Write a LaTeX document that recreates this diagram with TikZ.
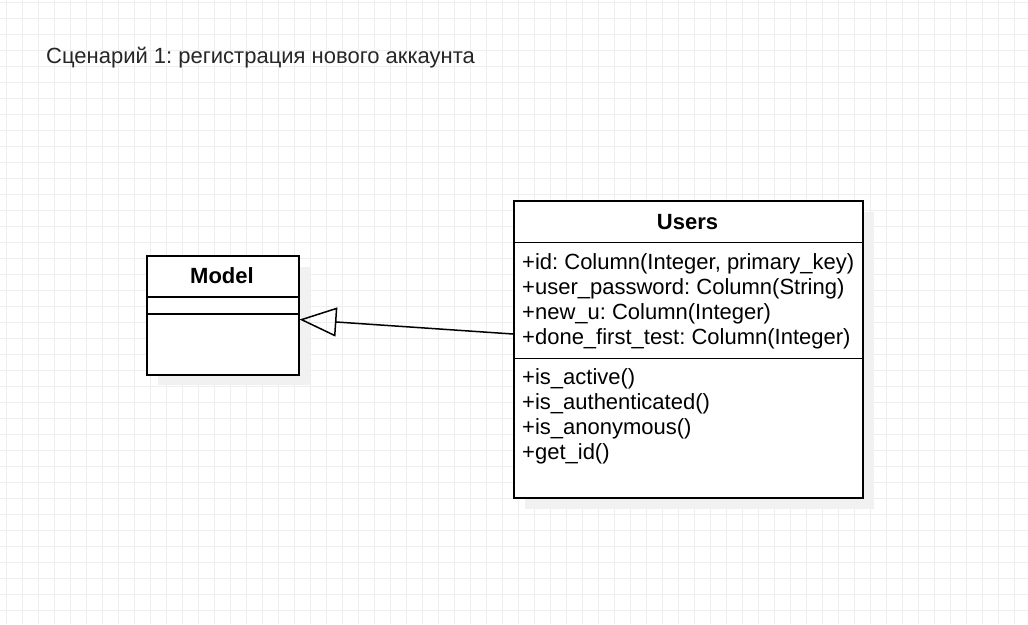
\documentclass[tikz,border=0pt]{standalone}
\usepackage{fontspec}
\setmainfont{Liberation Sans}
\usetikzlibrary{arrows.meta}
\definecolor{gridc}{HTML}{EEEEEE}
\definecolor{shadowc}{HTML}{F1F1F1}
\frenchspacing
\begin{document}
\begin{tikzpicture}[x=1pt,y=-1pt,
  txt/.style={anchor=base west, inner sep=0pt, font=\fontsize{22}{25}\selectfont},
  ttl/.style={anchor=base, inner sep=0pt, font=\fontsize{22}{25}\selectfont\bfseries},
  classbox/.style={draw=black, line width=1.5pt, fill=white, anchor=north west, inner sep=0pt},
  shadowbox/.style={fill=shadowc, draw=none},
  divider/.style={draw=black, line width=1.5pt},
  gen/.style={draw=black, line width=1.5pt, -{Triangle[open, length=37pt, width=29pt, line width=1.5pt]}}
]
\useasboundingbox (0,0) rectangle (1028,624);
\fill[white] (0,0) rectangle (1028,624);
% grid
\foreach \k in {0,...,64} {\draw[gridc, line width=1pt] ({6.7+16*\k},0) -- ({6.7+16*\k},624);}
\foreach \k in {0,...,38} {\draw[gridc, line width=1pt] (0,{2.5+16*\k}) -- (1028,{2.5+16*\k});}

% title
\node[txt, text=black!85] (title) at (46,63) {Сценарий 1: регистрация нового аккаунта};

% Model class
\fill[shadowbox] (158,267) rectangle (310,385);
\node[classbox, minimum width=152pt, minimum height=119pt] (model) at (146,255) {};
\draw[divider] (146,297) -- (298,297);
\draw[divider] (146,314) -- (298,314);
\node[ttl] (modelname) at (222,283) {Model};

% Users class
\fill[shadowbox] (525,212) rectangle (874,509);
\node[classbox, minimum width=349pt, minimum height=297pt] (users) at (513,200) {};
\draw[divider] (513,242.5) -- (862,242.5);
\draw[divider] (513,358.5) -- (862,358.5);
\node[ttl] (usersname) at (687.5,229) {Users};
\node[txt] (a1) at (522,269) {+id: Column(Integer, primary\_key)};
\node[txt] (a2) at (522,294) {+user\_password: Column(String)};
\node[txt] (a3) at (522,319) {+new\_u: Column(Integer)};
\node[txt] (a4) at (522,344) {+done\_first\_test: Column(Integer)};
\node[txt] (m1) at (522,384) {+is\_active()};
\node[txt] (m2) at (522,409) {+is\_authenticated()};
\node[txt] (m3) at (522,434) {+is\_anonymous()};
\node[txt] (m4) at (522,459) {+get\_id()};

% generalization
\draw[gen] ([yshift=-134pt]users.north west) -- ([yshift=-64.5pt]model.north east);
\end{tikzpicture}
\end{document}
